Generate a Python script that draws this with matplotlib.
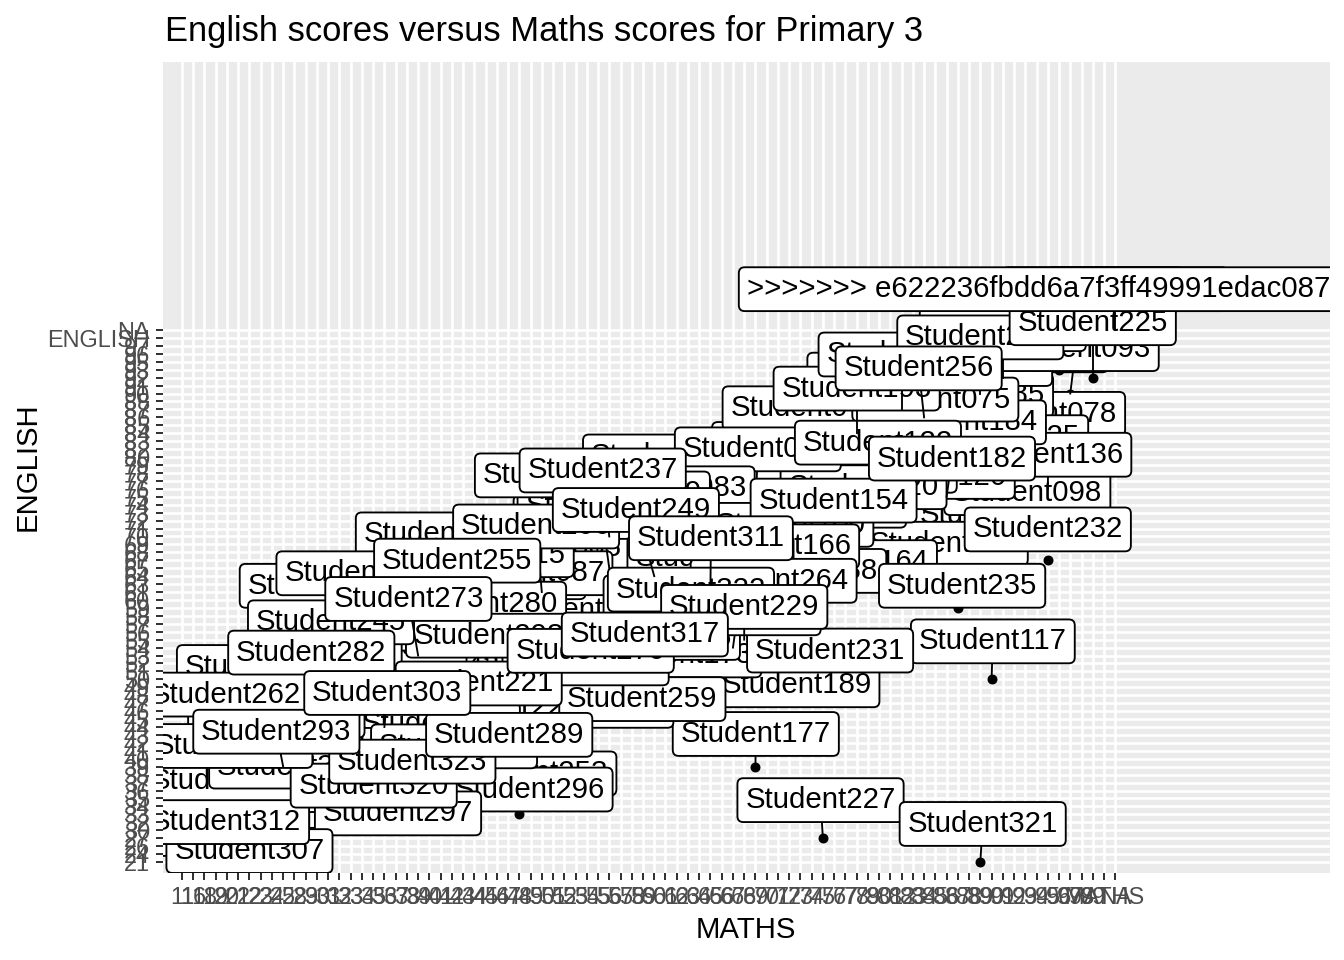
import numpy as np
import matplotlib
matplotlib.use("Agg")
from matplotlib import pyplot as plt

# factor levels as they came out of the (merge-conflicted) csv
maths_levels = ["11", "16", "18", "19", "20", "21", "22", "23", "24", "25", "28", "29",
                "30", "31", "32", "33", "34", "35", "36", "37", "38", "39", "40", "41",
                "42", "43", "44", "45", "46", "47", "48", "49", "50", "51", "52", "53",
                "54", "55", "56", "57", "58", "59", "60", "61", "62", "63", "64", "65",
                "66", "67", "68", "69", "70", "71", "72", "73", "74", "75", "76", "77",
                "78", "79", "80", "81", "82", "83", "84", "85", "86", "87", "88", "89",
                "90", "91", "92", "93", "94", "95", "96", "97", "98", "99", "MATHS", "NA"]
english_levels = ["21", "24", "26", "27", "30", "32", "33", "34", "35", "36", "37", "38",
                  "39", "40", "41", "42", "43", "44", "45", "46", "47", "48", "49", "50",
                  "51", "52", "53", "54", "55", "56", "57", "58", "59", "60", "61", "63",
                  "64", "65", "67", "68", "69", "70", "71", "72", "73", "74", "75", "76",
                  "77", "78", "79", "80", "82", "83", "84", "85", "86", "87", "88", "90",
                  "91", "92", "93", "95", "96", "97", "ENGLISH", "NA"]

names = ["<<<<<<< HEAD",
         "Student001", "Student004", "Student009", "Student013", "Student018", "Student022",
         "Student027", "Student031", "Student035", "Student040", "Student044", "Student048",
         "Student052", "Student056", "Student059", "Student061", "Student066", "Student070",
         "Student073", "Student078", "Student081", "Student085", "Student090", "Student091",
         "Student095", "Student098", "Student102", "Student104", "Student107", "Student111",
         "Student113", "Student117", "Student120", "Student125", "Student128", "Student131",
         "Student135", "Student136", "Student139", "Student142", "Student145", "Student149",
         "Student152", "Student156", "Student160", "Student163", "Student164", "Student168",
         "Student171", "Student174", "Student177", "Student180", "Student184", "Student186",
         "Student188", "Student189", "Student190",
         "Student003", "Student007", "Student011", "Student015", "Student020", "Student025",
         "Student029", "Student033", "Student038", "Student042", "Student046", "Student050",
         "Student054", "Student058", "Student063", "Student068", "Student075", "Student083",
         "Student087", "Student093", "Student100", "Student109", "Student115", "Student122",
         "Student127", "Student133", "Student141", "Student147", "Student154", "Student158",
         "Student166", "Student173", "Student182",
         "=======",
         "Student193", "Student197", "Student201", "Student204", "Student208", "Student211",
         "Student215", "Student219", "Student222", "Student225", "Student227", "Student231",
         "Student232", "Student235", "Student239", "Student243", "Student247", "Student250",
         "Student252", "Student253", "Student256", "Student257", "Student259", "Student261",
         "Student264", "Student266", "Student268", "Student270", "Student272", "Student275",
         "Student277", "Student280", "Student283", "Student285", "Student287", "Student290",
         "Student292", "Student295", "Student296", "Student297", "Student298", "Student300",
         "Student302", "Student305", "Student307", "Student309", "Student310", "Student312",
         "Student314", "Student316", "Student318", "Student320", "Student321", "Student322",
         "Student323",
         "Student195", "Student199", "Student206", "Student213", "Student217", "Student221",
         "Student229", "Student237", "Student241", "Student245", "Student249", "Student255",
         "Student262", "Student273", "Student279", "Student282", "Student289", "Student293",
         "Student303", "Student311", "Student317",
         ">>>>>>> e622236fbdd6a7f3ff49991edac0870b5c1f2a9d"]

maths = [None,
         "45", "62", "83", "96", "57", "38", "93", "71", "49", "67", "29", "79",
         "53", "97", "86", "64", "41", "75", "60", "94", "35", "88", "68", "90",
         "51", "92", "73", "58", "44", "81", "66", "90", "84", "91", "55", "77",
         "85", "95", "63", "47", "70", "80", "61", "39", "74", "59", "76", "50",
         "65", "54", "69", "43", "87", "69", "72", "72", "33",
         "52", "47", "61", "36", "78", "88", "58", "29", "66", "74", "43", "81",
         "55", "92", "69", "40", "85", "63", "50", "97", "72", "59", "46", "80",
         "57", "91", "64", "53", "76", "42", "70", "62", "86",
         None,
         "78", "56", "36", "48", "82", "31", "62", "89", "46", "99", "75", "75",
         "95", "87", "52", "40", "66", "30", "32", "48", "84", "42", "58", "25",
         "70", "20", "37", "34", "21", "53", "28", "44", "23", "60", "18", "39",
         "24", "33", "48", "37", "45", "19", "29", "16", "22", "35", "67", "11",
         "41", "28", "30", "34", "89", "63", "38",
         "24", "31", "50", "21", "35", "45", "68", "56", "28", "33", "60", "43",
         "20", "39", "54", "30", "47", "25", "36", "65", "57",
         None]

english = [None,
           "52", "63", "78", "93", "58", "46", "88", "70", "55", "67", "40", "74",
           "56", "96", "85", "65", "49", "72", "60", "82", "44", "83", "64", "68",
           "52", "72", "75", "63", "48", "80", "71", "50", "73", "77", "61", "78",
           "64", "76", "59", "51", "68", "73", "67", "43", "69", "57", "61", "47",
           "53", "54", "39", "45", "79", "49", "59", "48", "41",
           "60", "57", "71", "48", "70", "87", "52", "45", "58", "80", "55", "86",
           "64", "95", "73", "52", "82", "68", "57", "90", "65", "67", "59", "76",
           "48", "92", "54", "45", "69", "43", "63", "50", "75",
           None,
           "84", "65", "52", "50", "87", "42", "56", "90", "44", "92", "27", "50",
           "67", "59", "70", "47", "60", "38", "55", "35", "86", "60", "45", "36",
           "58", "34", "48", "50", "32", "48", "39", "53", "37", "52", "30", "41",
           "42", "34", "33", "33", "49", "35", "44", "26", "24", "38", "54", "27",
           "40", "36", "44", "34", "21", "57", "37",
           "45", "47", "61", "38", "55", "46", "55", "70", "41", "50", "64", "58",
           "43", "53", "51", "47", "42", "39", "44", "63", "52",
           None]

title = "English scores versus Maths scores for Primary 3"

plt.rcParams["font.family"] = ["Liberation Sans", "DejaVu Sans"]

x_of = {lv: i for i, lv in enumerate(maths_levels)}
y_of = {lv: i for i, lv in enumerate(english_levels)}
xs = np.array([x_of["NA" if v is None else v] for v in maths], float)
ys = np.array([y_of["NA" if v is None else v] for v in english], float)

fig = plt.figure(figsize=(7, 5), dpi=192)
ax = fig.add_axes([163 / 1344, 87 / 960, (1330 - 163) / 1344, (873 - 62) / 960])
ax.set_facecolor("#EBEBEB")
ax.set_xlim(-1.69, 102.1)
ax.set_ylim(-1.39, 100.76)
ax.set_xticks(range(len(maths_levels)))
ax.set_xticklabels(maths_levels)
ax.set_yticks(range(len(english_levels)))
ax.set_yticklabels(english_levels)
for s in ax.spines.values():
    s.set_visible(False)
ax.grid(True, color="white", linewidth=1.0)
ax.set_axisbelow(True)
ax.tick_params(colors="#333333", labelcolor="#4D4D4D", labelsize=8.8,
               length=2.75, width=0.75, pad=2.2)

ax.scatter(xs, ys, s=14, color="black", linewidths=0, zorder=2)

fig.text(165 / 1344, 1 - 31 / 960, title, fontsize=12.95, ha="left", va="center")
fig.text(746 / 1344, 1 - 930 / 960, "MATHS", fontsize=11, ha="center", va="center")
fig.text(28 / 1344, 1 - 467 / 960, "ENGLISH", fontsize=11, ha="center", va="center",
         rotation=90)

# labels, then a crude repel pass in pixel space
texts = []
for i, n in enumerate(names):
    t = ax.text(xs[i], ys[i], n, fontsize=11, ha="center", va="center",
                zorder=3 + i * 0.001, clip_on=True,
                bbox=dict(boxstyle="round,pad=0.27,rounding_size=0.2",
                          fc="white", ec="black", lw=0.7))
    texts.append(t)
fig.canvas.draw()
r = fig.canvas.get_renderer()
wh = np.array([[b.width, b.height] for b in
               (t.get_bbox_patch().get_window_extent(r) for t in texts)])
pts = ax.transData.transform(np.c_[xs, ys])
box = ax.get_window_extent(r)

# labels of coincident points get stacked on the last one of their group
last_of = {}
for i in range(len(names)):
    last_of[(xs[i], ys[i])] = i
owner = np.array([last_of[(xs[i], ys[i])] for i in range(len(names))])
act = np.unique(owner)

target = pts[act] + np.array([0.0, 38.0])
pos = target.copy()
w = wh[act]
n = len(act)
mass = np.maximum(w[:, 0] / np.median(w[:, 0]), 1.0) ** 2
order = np.sign(np.arange(n)[:, None] - np.arange(n)[None, :])
lo_x = box.x0 + w[:, 0] / 2 - 20
hi_x = np.maximum(box.x1 - w[:, 0] / 2, np.minimum(target[:, 0], box.x1))
lo_y = box.y0 + w[:, 1] / 2
hi_y = box.y1 - w[:, 1] / 2
p_act = pts[act]
for it in range(200):
    d = pos[:, None, :] - pos[None, :, :]
    ov = (w[:, None, :] + w[None, :, :]) / 2 - np.abs(d)
    hit = (ov[..., 0] > 0) & (ov[..., 1] > 0)
    np.fill_diagonal(hit, False)
    sx = np.where(d[..., 0] == 0, order, np.sign(d[..., 0]))
    sy = np.where(d[..., 1] == 0, order, np.sign(d[..., 1]))
    horiz = ov[..., 0] < ov[..., 1]
    fx = np.where(hit & horiz, sx * ov[..., 0], 0).sum(1)
    fy = np.where(hit & ~horiz, sy * ov[..., 1], 0).sum(1)
    dp = pos[:, None, :] - p_act[None, :, :]
    ovp = w[:, None, :] / 2 + 6 - np.abs(dp)
    hp = (ovp[..., 0] > 0) & (ovp[..., 1] > 0)
    fy += np.where(hp, np.sign(dp[..., 1] + 0.1) * ovp[..., 1], 0).sum(1) * 0.3
    pos += 0.012 * np.c_[fx, fy] / mass[:, None] + 0.02 * (target - pos)
    pos[:, 0] = np.clip(pos[:, 0], lo_x, hi_x)
    pos[:, 1] = np.clip(pos[:, 1], lo_y, hi_y)

where_act = {a: k for k, a in enumerate(act)}
final = np.array([pos[where_act[owner[i]]] for i in range(len(names))])

inv = ax.transData.inverted()
lab = inv.transform(final)
for i, t in enumerate(texts):
    t.set_position(lab[i])
    near = np.clip(pts[i], final[i] - wh[i] / 2, final[i] + wh[i] / 2)
    if np.hypot(*(near - pts[i])) > 10:
        seg = inv.transform(np.vstack([pts[i], final[i]]))
        ax.plot(seg[:, 0], seg[:, 1], color="black", lw=0.7,
                zorder=3 + i * 0.001 - 0.0005, clip_on=True)

fig.savefig("out.png", dpi=192)
